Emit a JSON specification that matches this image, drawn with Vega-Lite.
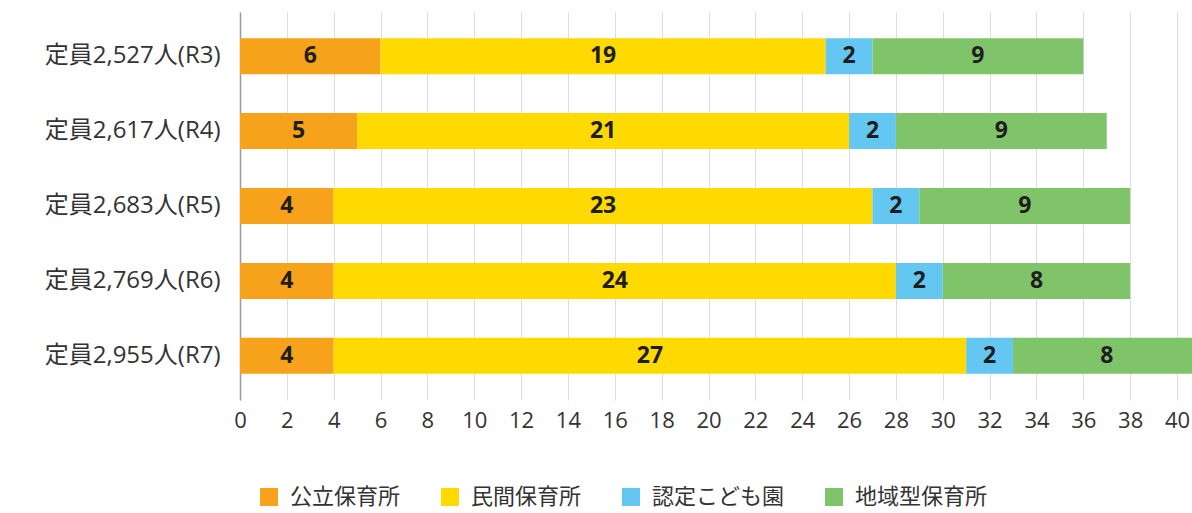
{
  "$schema": "https://vega.github.io/schema/vega-lite/v6.json",
  "width": 952,
  "height": 388,
  "autosize": {"type": "none"},
  "padding": {"left": 240, "top": 12, "right": 0, "bottom": 113},
  "background": "white",
  "config": {
    "view": {"stroke": null},
    "font": "Open Sans, Noto Sans CJK JP"
  },
  "data": {
    "values": [
      {"year": "定員2,527人(R3)", "type": "公立保育所", "k": 1, "value": 6},
      {"year": "定員2,527人(R3)", "type": "民間保育所", "k": 2, "value": 19},
      {"year": "定員2,527人(R3)", "type": "認定こども園", "k": 3, "value": 2},
      {"year": "定員2,527人(R3)", "type": "地域型保育所", "k": 4, "value": 9},
      {"year": "定員2,617人(R4)", "type": "公立保育所", "k": 1, "value": 5},
      {"year": "定員2,617人(R4)", "type": "民間保育所", "k": 2, "value": 21},
      {"year": "定員2,617人(R4)", "type": "認定こども園", "k": 3, "value": 2},
      {"year": "定員2,617人(R4)", "type": "地域型保育所", "k": 4, "value": 9},
      {"year": "定員2,683人(R5)", "type": "公立保育所", "k": 1, "value": 4},
      {"year": "定員2,683人(R5)", "type": "民間保育所", "k": 2, "value": 23},
      {"year": "定員2,683人(R5)", "type": "認定こども園", "k": 3, "value": 2},
      {"year": "定員2,683人(R5)", "type": "地域型保育所", "k": 4, "value": 9},
      {"year": "定員2,769人(R6)", "type": "公立保育所", "k": 1, "value": 4},
      {"year": "定員2,769人(R6)", "type": "民間保育所", "k": 2, "value": 24},
      {"year": "定員2,769人(R6)", "type": "認定こども園", "k": 3, "value": 2},
      {"year": "定員2,769人(R6)", "type": "地域型保育所", "k": 4, "value": 8},
      {"year": "定員2,955人(R7)", "type": "公立保育所", "k": 1, "value": 4},
      {"year": "定員2,955人(R7)", "type": "民間保育所", "k": 2, "value": 27},
      {"year": "定員2,955人(R7)", "type": "認定こども園", "k": 3, "value": 2},
      {"year": "定員2,955人(R7)", "type": "地域型保育所", "k": 4, "value": 8}
    ]
  },
  "encoding": {
    "y": {
      "field": "year",
      "type": "nominal",
      "sort": null,
      "title": null,
      "scale": {"paddingInner": 0.52, "paddingOuter": 0.35},
      "axis": {
        "ticks": false,
        "domain": true,
        "domainColor": "#9a9a9a",
        "domainWidth": 1.5,
        "labelFontSize": 24,
        "labelColor": "#333333",
        "labelPadding": 20,
        "labelLimit": 240,
        "grid": false
      }
    }
  },
  "layer": [
    {
      "mark": {"type": "bar", "clip": true},
      "encoding": {
        "x": {
          "field": "value",
          "type": "quantitative",
          "stack": "zero",
          "title": null,
          "scale": {"domain": [0, 40.64], "nice": false, "zero": true},
          "axis": {
            "values": [0,1,2,3,4,5,6,7,8,9,10,11,12,13,14,15,16,17,18,19,20,21,22,23,24,25,26,27,28,29,30,31,32,33,34,35,36,37,38,39,40],
            "labelExpr": "datum.value % 2 == 0 ? datum.label : ''",
            "ticks": false,
            "domain": false,
            "grid": true,
            "gridColor": "#dddddd",
            "gridWidth": 1,
            "labelFontSize": 22,
            "labelColor": "#333333",
            "labelPadding": 10,
            "labelFlush": false
          }
        },
        "order": {"field": "k", "type": "quantitative"},
        "color": {
          "field": "type",
          "type": "nominal",
          "sort": ["公立保育所", "民間保育所", "認定こども園", "地域型保育所"],
          "scale": {
            "domain": ["公立保育所", "民間保育所", "認定こども園", "地域型保育所"],
            "range": ["#F7A21B", "#FFDA00", "#63C7F2", "#80C46A"]
          },
          "legend": {
            "title": null,
            "orient": "none",
            "direction": "horizontal",
            "legendX": 18,
            "legendY": 474,
            "symbolType": "square",
            "symbolSize": 324,
            "symbolStrokeWidth": 0,
            "labelFontSize": 22,
            "labelColor": "#333333",
            "labelOffset": 10,
            "columnPadding": 38
          }
        }
      }
    },
    {
      "mark": {"type": "text", "fontSize": 23, "fontWeight": "bold", "color": "#1e1e1e", "baseline": "middle", "align": "center"},
      "encoding": {
        "x": {"field": "value", "type": "quantitative", "stack": "zero", "bandPosition": 0.5},
        "order": {"field": "k", "type": "quantitative"},
        "detail": {"field": "type", "type": "nominal"},
        "text": {"field": "value", "type": "quantitative"}
      }
    }
  ]
}
